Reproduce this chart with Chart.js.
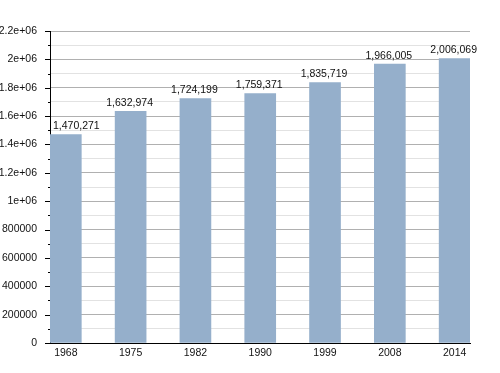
<!DOCTYPE html>
<html>
<head>
<meta charset="utf-8">
<script src="https://cdn.jsdelivr.net/npm/chart.js@4"></script>
<style>
  html, body { margin: 0; padding: 0; background: #fff; }
  #wrap { width: 500px; height: 373px; }
</style>
</head>
<body>
<div id="wrap"><canvas id="myChart"></canvas></div>
<script>
var years = ['1968', '1975', '1982', '1990', '1999', '2008', '2014'];
var population = [1470271, 1632974, 1724199, 1759371, 1835719, 1966005, 2006069];
var yMax = 2200000;
var yStep = 100000;

function yLabel(v) {
    if (v % 200000 !== 0) return '';
    if (v >= 1000000) return (v / 1000000) + 'e+06';
    return String(v);
}

var points = [];
for (var i = 0; i < population.length; i++) {
    points.push({ x: i, y: population[i] });
}

var fontFamily = '"Liberation Sans", Arial, Helvetica, sans-serif';

var extras = {
    id: 'extras',
    afterDatasetsDraw: function (chart) {
        var ctx = chart.ctx;
        var meta = chart.getDatasetMeta(0);
        ctx.save();
        ctx.fillStyle = '#111';
        ctx.font = '10.5px ' + fontFamily;
        ctx.textAlign = 'center';
        ctx.textBaseline = 'bottom';
        for (var i = 0; i < meta.data.length; i++) {
            var bar = meta.data[i];
            var text = population[i].toLocaleString('en-US');
            var w = ctx.measureText(text).width;
            // keep labels from running past the y axis
            var x = Math.max(bar.x - 1, chart.chartArea.left + 3 + w / 2);
            ctx.fillText(text, x, bar.y - 3);
        }
        // tick marks on the y axis
        var y = chart.scales.y;
        ctx.strokeStyle = '#000';
        ctx.lineWidth = 1;
        for (var v = 0; v <= yMax; v += yStep) {
            var py = Math.round(y.getPixelForValue(v)) + 0.5;
            var len = (v % 200000 === 0) ? 5 : 2;
            ctx.beginPath();
            ctx.moveTo(y.right - len, py);
            ctx.lineTo(y.right, py);
            ctx.stroke();
        }
        ctx.restore();
    }
};

new Chart(document.getElementById('myChart'), {
    type: 'bar',
    data: {
        datasets: [{
            data: points,
            backgroundColor: '#95afcb',
            barThickness: 31
        }]
    },
    options: {
        responsive: true,
        maintainAspectRatio: false,
        animation: false,
        layout: { padding: { top: 31, right: 30, left: 0, bottom: 0 } },
        plugins: { legend: { display: false }, tooltip: { enabled: false } },
        scales: {
            x: {
                type: 'linear',
                offset: false,
                min: -0.244,
                max: 6.237,
                afterBuildTicks: function (scale) {
                    scale.ticks = years.map(function (_, i) { return { value: i }; });
                },
                afterFit: function (scale) { scale.height = 30; },
                grid: { display: false, drawTicks: false, offset: false },
                border: { color: '#000', width: 1 },
                ticks: {
                    padding: 4,
                    color: '#111',
                    font: { family: fontFamily, size: 10.5 },
                    maxRotation: 0,
                    autoSkip: false,
                    callback: function (v) { return years[v]; }
                }
            },
            y: {
                min: 0,
                max: yMax,
                afterFit: function (scale) { scale.width = 50; },
                grid: {
                    drawTicks: false,
                    color: function (c) {
                        return (c.tick && c.tick.value % 200000 === 0) ? '#b0b0b0' : '#e2e2e2';
                    }
                },
                border: { color: '#000', width: 1 },
                ticks: {
                    stepSize: yStep,
                    padding: 13,
                    color: '#111',
                    autoSkip: false,
                    font: { family: fontFamily, size: 10.5 },
                    callback: yLabel
                }
            }
        }
    },
    plugins: [extras]
});
</script>
</body>
</html>
